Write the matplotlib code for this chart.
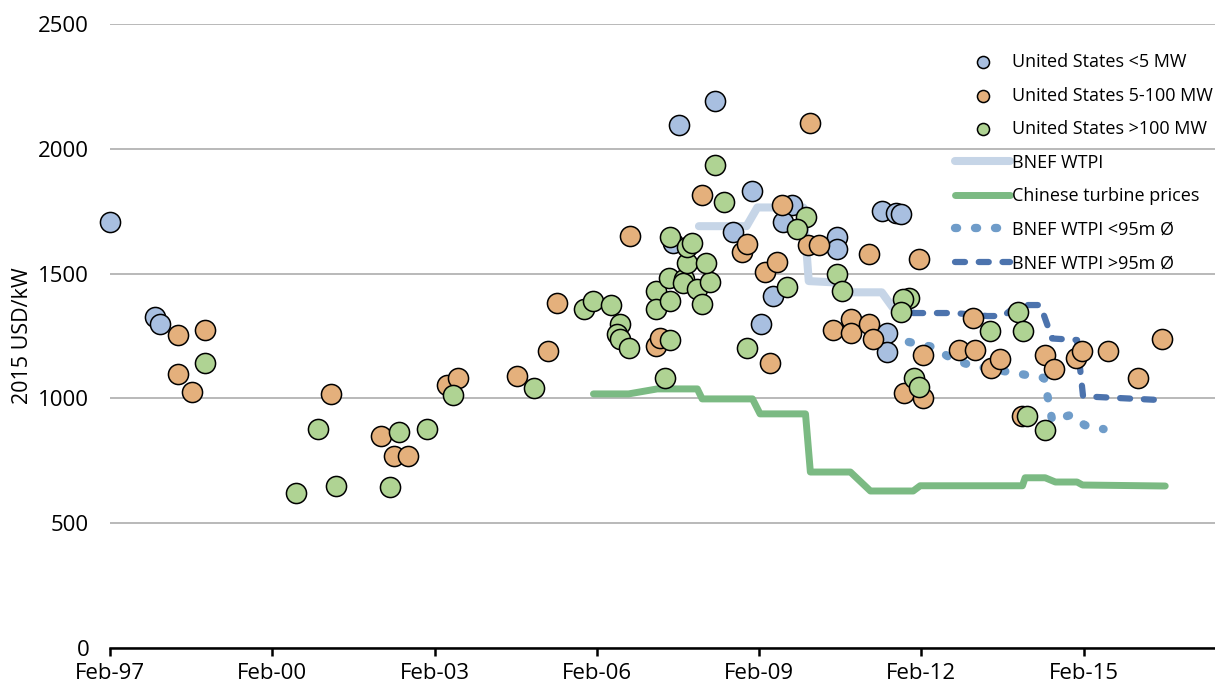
import matplotlib
matplotlib.use("Agg")
import matplotlib.pyplot as plt

plt.rcParams['font.family'] = ['Open Sans', 'DejaVu Sans']

# --- data (decimal years, 2015 USD/kW) ---
us_small_x = [1997.08, 1997.92, 1998.01, 2007.60, 2008.27, 2008.95, 2008.60, 2007.49,
              2009.12, 2009.34, 2009.69, 2009.52, 2010.52, 2010.52, 2011.35, 2011.61,
              2011.70, 2011.45, 2011.45]
us_small_y = [1707, 1326, 1298, 2095, 2192, 1831, 1667, 1623,
              1298, 1410, 1775, 1707, 1647, 1599, 1751, 1743,
              1739, 1262, 1186]

us_mid_x = [1998.34, 1998.84, 1998.34, 1998.60, 2001.17, 2002.09, 2002.33, 2002.59,
            2003.31, 2003.52, 2004.61, 2005.18, 2005.35, 2006.70, 2008.03, 2007.18,
            2007.25, 2008.77, 2008.86, 2009.19, 2009.50, 2009.41, 2009.28, 2010.02,
            2009.98, 2010.19, 2011.11, 2012.04, 2010.45, 2010.78, 2010.78, 2011.11,
            2011.19, 2012.11, 2011.76, 2012.11, 2013.03, 2012.78, 2013.07, 2013.37,
            2013.53, 2014.37, 2014.53, 2014.94, 2015.05, 2015.53, 2016.53, 2016.08,
            2013.94]
us_mid_y = [1254, 1274, 1098, 1026, 1018, 849, 769, 769,
            1054, 1082, 1090, 1190, 1382, 1651, 1815, 1210,
            1242, 1587, 1619, 1506, 1775, 1546, 1142, 2103,
            1615, 1615, 1579, 1558, 1274, 1318, 1262, 1298,
            1238, 1174, 1022, 1002, 1322, 1194, 1194, 1122,
            1158, 1174, 1118, 1162, 1190, 1190, 1238, 1082,
            929]

us_large_x = [1998.84, 2000.93, 2000.52, 2001.26, 2002.26, 2002.43, 2002.94, 2003.42,
              2004.92, 2005.84, 2006.01, 2006.34, 2006.51, 2006.45, 2006.51, 2006.68,
              2007.34, 2007.43, 2007.18, 2007.18, 2007.42, 2007.43, 2007.69, 2007.67,
              2007.93, 2008.03, 2008.17, 2007.75, 2008.10, 2007.43, 2007.75, 2007.84,
              2008.27, 2008.43, 2008.86, 2009.60, 2009.95, 2009.78, 2010.52, 2010.61,
              2011.85, 2011.74, 2011.70, 2011.94, 2012.04, 2013.35, 2013.87, 2013.96,
              2014.03, 2014.37]
us_large_y = [1142, 877, 621, 649, 645, 865, 877, 1014,
              1042, 1358, 1390, 1374, 1298, 1258, 1238, 1202,
              1082, 1234, 1430, 1358, 1482, 1390, 1478, 1462,
              1438, 1378, 1466, 1542, 1542, 1647, 1607, 1623,
              1935, 1787, 1202, 1446, 1727, 1679, 1498, 1430,
              1402, 1398, 1346, 1082, 1046, 1270, 1346, 1270,
              929, 873]

wtpi_x = [2007.97, 2008.85, 2009.05, 2009.90, 2010.00, 2010.45, 2010.70, 2011.35, 2011.55, 2011.90]
wtpi_y = [1690, 1690, 1765, 1765, 1470, 1465, 1425, 1425, 1365, 1345]

china_x = [2006.02, 2006.67, 2007.20, 2007.94, 2008.03, 2008.96, 2009.10, 2009.94, 2010.03,
           2010.77, 2011.14, 2011.93, 2012.06, 2013.95, 2014.00, 2014.37, 2014.56, 2014.96,
           2015.06, 2016.59]
china_y = [1018, 1018, 1038, 1038, 998, 998, 938, 938, 705,
           705, 629, 629, 650, 650, 682, 682, 665, 665,
           653, 649]

wtpi_small_x = [2011.85, 2012.30, 2012.65, 2013.00, 2013.80, 2014.35, 2014.50, 2014.85, 2015.10, 2015.45]
wtpi_small_y = [1226, 1206, 1158, 1132, 1102, 1082, 912, 934, 893, 877]

wtpi_large_x = [2011.93, 2012.70, 2013.30, 2013.60, 2013.85, 2014.28, 2014.50, 2014.96, 2015.07, 2015.30, 2016.44]
wtpi_large_y = [1342, 1342, 1330, 1330, 1374, 1374, 1240, 1234, 1010, 1006, 994]

tick_years = [1997.083, 2000.083, 2003.083, 2006.083, 2009.083, 2012.083, 2015.083]
tick_labels = ['Feb-97', 'Feb-00', 'Feb-03', 'Feb-06', 'Feb-09', 'Feb-12', 'Feb-15']

fig = plt.figure(figsize=(12.15, 6.86), dpi=100)
ax = fig.add_axes([110 / 1215, 38 / 686, 1105 / 1215, 624 / 686])

# lines go under the markers
ax.plot(wtpi_x, wtpi_y, color='#C6D5E7', lw=5.8, solid_capstyle='round', zorder=2, label='BNEF WTPI')
ax.plot(china_x, china_y, color='#7BBA83', lw=5.0, solid_capstyle='round', zorder=2,
        label='Chinese turbine prices')
ax.plot(wtpi_small_x, wtpi_small_y, color='#6F9CC9', lw=6.0, linestyle=(0, (0.25, 2.15)),
        dash_capstyle='round', zorder=2, label='BNEF WTPI <95m Ø')
ax.plot(wtpi_large_x, wtpi_large_y, color='#4C73AD', lw=4.5, linestyle=(0, (1.6, 2.2)),
        dash_capstyle='round', zorder=2, label='BNEF WTPI >95m Ø')

ax.scatter(us_small_x, us_small_y, s=210, color='#A8BFE0', edgecolor='black', linewidth=1.1,
           zorder=3, clip_on=False, label='United States <5 MW')
ax.scatter(us_mid_x, us_mid_y, s=210, color='#E4B07C', edgecolor='black', linewidth=1.1,
           zorder=4, clip_on=False, label='United States 5-100 MW')
ax.scatter(us_large_x, us_large_y, s=210, color='#AFD393', edgecolor='black', linewidth=1.1,
           zorder=5, clip_on=False, label='United States >100 MW')

ax.set_xlim(1997.083, 2017.51)
ax.set_ylim(0, 2500)
ax.set_yticks([0, 500, 1000, 1500, 2000, 2500])
ax.set_xticks(tick_years)
ax.set_xticklabels(tick_labels)
ax.grid(axis='y', color='#A6A6A6', lw=1.1, zorder=0)
ax.set_axisbelow(True)
for s in ['top', 'right', 'left']:
    ax.spines[s].set_visible(False)
ax.spines['bottom'].set_linewidth(1.8)
ax.tick_params(axis='y', length=0, labelsize=16, pad=15)
ax.tick_params(axis='x', length=6, width=1.8, labelsize=16, pad=5)
ax.set_ylabel('2015 USD/kW', fontsize=15.5, labelpad=4)

handles, labels = ax.get_legend_handles_labels()
order = [4, 5, 6, 0, 1, 2, 3]
ax.legend([handles[i] for i in order], [labels[i] for i in order],
          loc='upper left', bbox_to_anchor=(955 / 1215, 1 - 53 / 686), bbox_transform=fig.transFigure,
          frameon=False, fontsize=13, handlelength=3.05, handletextpad=0.12, labelspacing=0.86,
          borderpad=0, borderaxespad=0, markerscale=0.6)

fig.savefig('out.png', dpi=100)
